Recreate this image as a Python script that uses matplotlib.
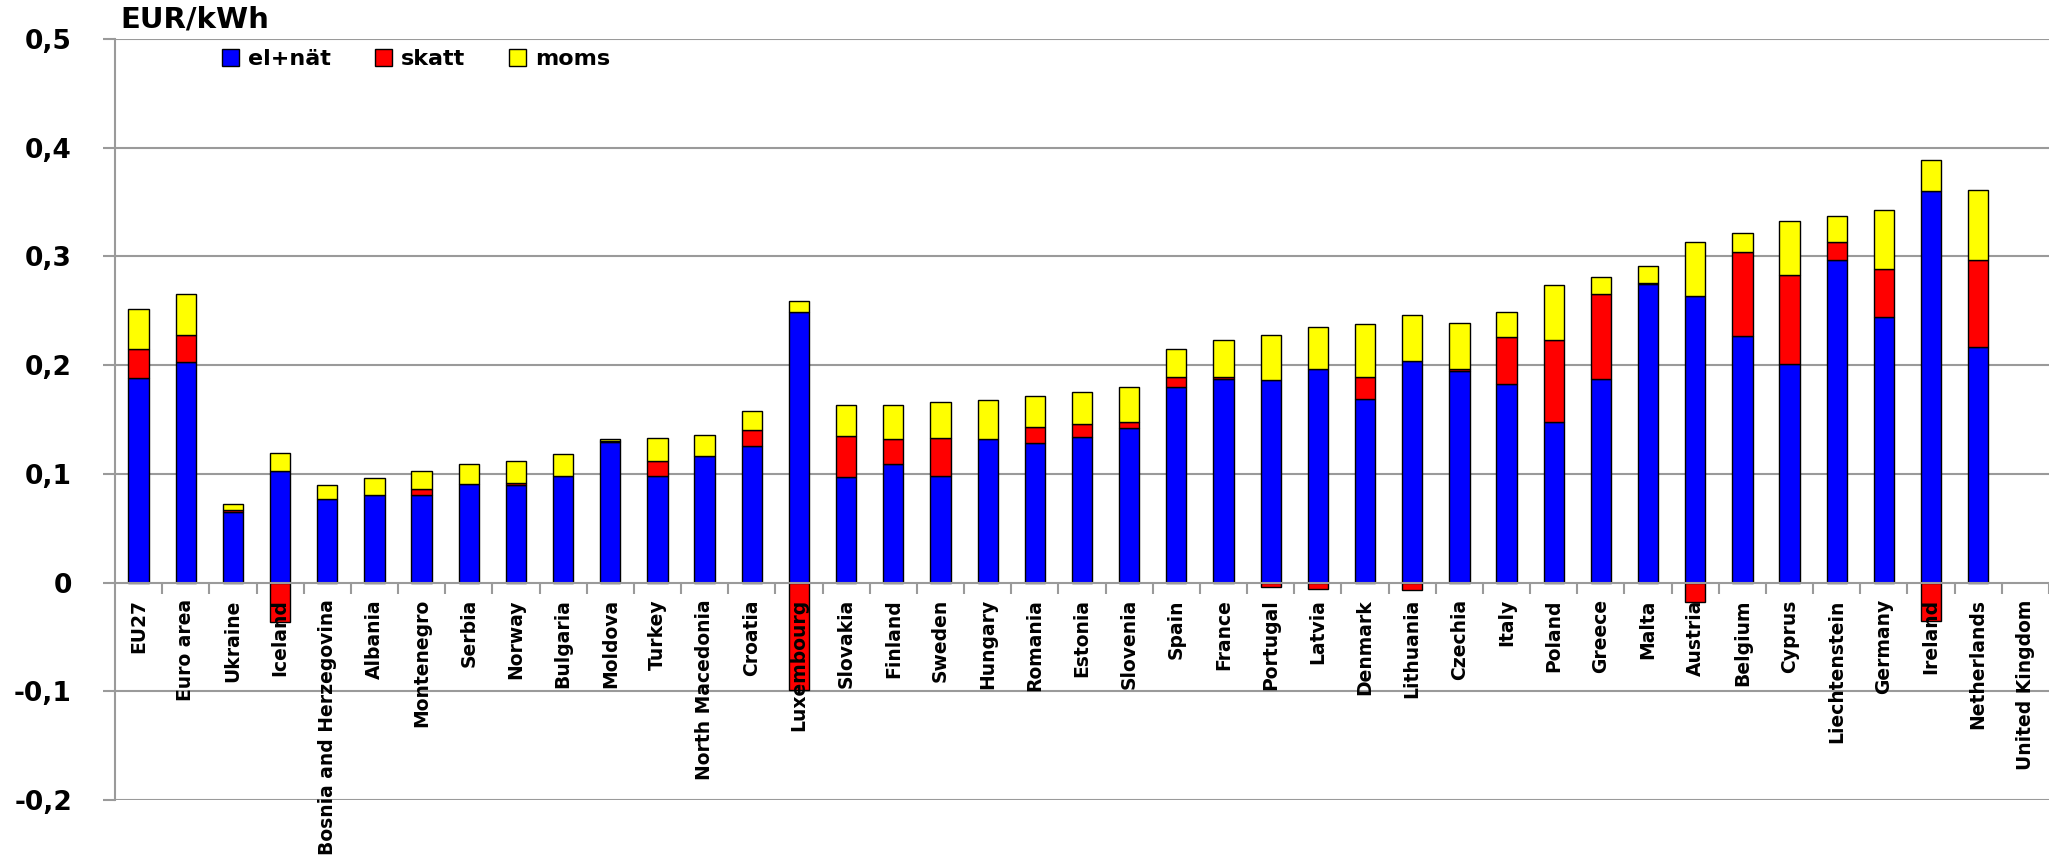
import numpy as np
import matplotlib
matplotlib.use("Agg")
import matplotlib.pyplot as plt
from matplotlib.patches import Patch

countries = ["EU27", "Euro area", "Ukraine", "Iceland", "Bosnia and Herzegovina", "Albania",
             "Montenegro", "Serbia", "Norway", "Bulgaria", "Moldova", "Turkey", "North Macedonia",
             "Croatia", "Luxembourg", "Slovakia", "Finland", "Sweden", "Hungary", "Romania",
             "Estonia", "Slovenia", "Spain", "France", "Portugal", "Latvia", "Denmark",
             "Lithuania", "Czechia", "Italy", "Poland", "Greece", "Malta", "Austria", "Belgium",
             "Cyprus", "Liechtenstein", "Germany", "Ireland", "Netherlands", "United Kingdom"]

el_nat = [0.188, 0.203, 0.065, 0.103, 0.077, 0.081, 0.081, 0.091, 0.090, 0.098, 0.129, 0.098,
          0.116, 0.126, 0.249, 0.097, 0.109, 0.098, 0.132, 0.128, 0.134, 0.142, 0.180, 0.187,
          0.186, 0.196, 0.169, 0.204, 0.195, 0.183, 0.148, 0.187, 0.275, 0.264, 0.227, 0.201,
          0.297, 0.244, 0.360, 0.217, 0.0]

skatt = [0.027, 0.025, 0.002, -0.036, 0.0, 0.0, 0.005, 0.0, 0.002, 0.0, 0.001, 0.014, 0.0,
         0.014, -0.099, 0.038, 0.023, 0.035, 0.0, 0.015, 0.012, 0.006, 0.009, 0.002, -0.004,
         -0.006, 0.020, -0.007, 0.001, 0.043, 0.075, 0.078, 0.001, -0.018, 0.077, 0.082, 0.016,
         0.044, -0.035, 0.080, 0.0]

moms = [0.037, 0.037, 0.005, 0.016, 0.013, 0.015, 0.017, 0.018, 0.020, 0.020, 0.002, 0.021,
        0.020, 0.018, 0.010, 0.028, 0.031, 0.033, 0.036, 0.029, 0.029, 0.032, 0.026, 0.034,
        0.042, 0.039, 0.049, 0.042, 0.043, 0.023, 0.051, 0.016, 0.015, 0.049, 0.018, 0.050,
        0.024, 0.055, 0.029, 0.064, 0.0]

series_names = ["el+nät", "skatt", "moms"]
y_ticks = [-0.2, -0.1, 0.0, 0.1, 0.2, 0.3, 0.4, 0.5]
y_tick_labels = ["-0,2", "-0,1", "0", "0,1", "0,2", "0,3", "0,4", "0,5"]
unit_label = "EUR/kWh"

W, H = 2049, 860
fig = plt.figure(figsize=(W / 100, H / 100), dpi=100)
ax = fig.add_axes([115 / W, 1 - 800 / H, 1 - 115 / W, (800 - 39) / H])

grid_col = "#9a9a9a"
for s in ["top", "right"]:
    ax.spines[s].set_visible(False)
ax.spines["bottom"].set_position(("data", 0))
ax.spines["bottom"].set_color(grid_col)
ax.spines["bottom"].set_linewidth(1.5)
ax.spines["bottom"].set_zorder(4)
ax.spines["left"].set_color(grid_col)
ax.spines["left"].set_linewidth(1.5)

x = np.arange(len(countries))
el = np.array(el_nat)
sk = np.array(skatt)
mo = np.array(moms)
width = 0.43
ec = "black"


def lws(v):
    return [1.0 if val != 0 else 0.0 for val in v]


# horizontal gridlines behind the bars
for yv in y_ticks:
    if yv != 0:
        ax.axhline(yv, color=grid_col, linewidth=1.5, zorder=0.5)

ax.bar(x, el, width, color="#0000FF", edgecolor=ec, linewidth=lws(el), zorder=3)
sk_bottom = np.where(sk >= 0, el, 0.0)
ax.bar(x, sk, width, bottom=sk_bottom, color="#FF0000", edgecolor=ec, linewidth=lws(sk), zorder=3)
mo_bottom = el + np.clip(sk, 0, None)
ax.bar(x, mo, width, bottom=mo_bottom, color="#FFFF00", edgecolor=ec, linewidth=lws(mo), zorder=3)

ax.set_xlim(-0.5, len(countries) - 0.5)
ax.set_ylim(-0.2, 0.5)

ax.set_yticks(y_ticks)
ax.set_yticklabels(y_tick_labels, fontsize=19, fontweight="bold", family="DejaVu Sans")
ax.tick_params(axis="y", length=9, width=1.5, color=grid_col, pad=22)

ax.set_xticks(x)
ax.set_xticklabels(countries, rotation=90, fontsize=13.5, fontweight="bold",
                   family="DejaVu Sans", va="top", ha="center")
ax.tick_params(axis="x", which="major", length=0, pad=12)
ax.set_xticks(np.arange(0.5, len(countries), 1.0), minor=True)
ax.tick_params(axis="x", which="minor", length=8, width=1.5, color=grid_col, direction="out")
ax.xaxis.set_zorder(5)
ax.yaxis.set_zorder(5)

fig.text(120 / W, 1 - 6 / H, unit_label, fontsize=21, fontweight="bold",
         family="DejaVu Sans", va="top", ha="left")

handles = [Patch(facecolor=c, edgecolor="black", linewidth=1.0)
           for c in ["#0000FF", "#FF0000", "#FFFF00"]]
fig.legend(handles, series_names, loc="upper left", bbox_to_anchor=(211 / W, 1 - 38 / H),
           ncol=3, frameon=False, borderpad=0, handlelength=0.75, handleheight=0.75,
           handletextpad=0.4, columnspacing=2.0,
           prop={"family": "DejaVu Sans", "weight": "bold", "size": 16})

fig.savefig("out.png", dpi=100)
